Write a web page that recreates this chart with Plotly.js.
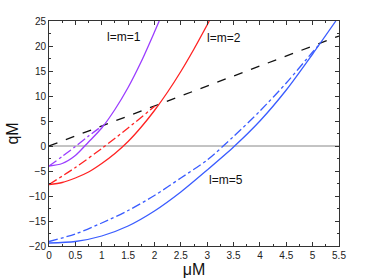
<!DOCTYPE html>
<html>
<head>
<meta charset="utf-8">
<script src="https://cdn.plot.ly/plotly-3.0.1.min.js"></script>
<style>html,body{margin:0;padding:0;background:#fff;}#chart{width:374px;height:279px;}</style>
</head>
<body>
<div id="chart"></div>
<script>
// l=m=1 (purple)
const mu1 = [0, 0.25, 0.5, 0.75, 1.0, 1.25, 1.5, 1.75, 2.0, 2.09];
const q1 = [-4.0, -3.5, -1.9, 0.8, 3.6, 7.3, 11.7, 16.9, 22.8, 25.0];
const mu1a = [0, 0.25, 0.5, 0.75, 1.02];
const q1a = [-4.0, -2.1, -0.1, 2.0, 4.1];
// l=m=2 (red)
const mu2 = [0, 0.25, 0.5, 0.75, 1.0, 1.25, 1.5, 1.75, 2.0, 2.25, 2.5, 2.75, 3.04];
const q2 = [-7.7, -7.3, -6.4, -5.2, -3.5, -1.5, 0.9, 3.8, 7.1, 10.8, 14.9, 19.4, 25.0];
const mu2a = [0, 0.5, 1.0, 1.5, 2.01];
const q2a = [-7.7, -4.3, -0.5, 3.6, 8.0];
// l=m=5 (blue)
const mu5 = [0, 0.5, 1.0, 1.5, 2.0, 2.5, 3.0, 3.5, 4.0, 4.5, 5.0, 5.44];
const q5 = [-19.4, -19.1, -18.0, -16.0, -13.0, -9.2, -4.8, -0.2, 5.0, 11.2, 18.4, 25.0];
const mu5a = [0, 0.5, 1.0, 1.5, 2.0, 2.5, 3.0, 3.5, 4.0, 4.5, 5.0, 5.15];
const q5a = [-19.1, -17.6, -15.4, -12.9, -9.9, -6.4, -2.8, 1.9, 7.0, 12.6, 18.8, 20.6];
// dashed reference line
const muD = [0, 5.5];
const qD = [0, 22];
// zero line
const muZ = [0, 5.5];
const qZ = [0, 0];
// labels
const labelText = ["l=m=1", "l=m=2", "l=m=5"];
const labelX = [1.43, 3.32, 3.35];
const labelY = [21.8, 21.6, -6.7];

const purple = '#9b3dff', red = '#ff2222', blue = '#3a5cff';
const lw = 1.3;
function tr(x, y, color, dash) {
  return {x: x, y: y, type: 'scatter', mode: 'lines', line: {color: color, width: lw, dash: dash, shape: 'spline', smoothing: 0.8}, hoverinfo: 'skip', showlegend: false};
}
const data = [
  {x: muZ, y: qZ, type: 'scatter', mode: 'lines', line: {color: '#888', width: 1}, showlegend: false},
  tr(muD, qD, '#111', 'dash'),
  tr(mu1, q1, purple, 'solid'),
  tr(mu1a, q1a, purple, 'dashdot'),
  tr(mu2, q2, red, 'solid'),
  tr(mu2a, q2a, red, 'dashdot'),
  tr(mu5, q5, blue, 'solid'),
  tr(mu5a, q5a, blue, 'dashdot')
];
const axisCommon = {
  showgrid: false, zeroline: false, showline: true, linecolor: '#333', linewidth: 1,
  mirror: 'ticks', ticks: 'inside', ticklen: 4, tickcolor: '#333',
  tickfont: {family: 'Liberation Sans, Arial, sans-serif', size: 10, color: '#222'}
};
const layout = {
  width: 374, height: 279,
  margin: {l: 49, r: 35, t: 21, b: 33},
  paper_bgcolor: '#fff', plot_bgcolor: '#fff',
  font: {family: 'Liberation Sans, Arial, sans-serif', color: '#111'},
  xaxis: Object.assign({}, axisCommon, {
    range: [0, 5.5], tickmode: 'linear', tick0: 0, dtick: 0.5,
    minor: {ticks: 'inside', dtick: 0.25, ticklen: 2, tickcolor: '#333'},
    title: {text: 'μM', font: {size: 16, color: '#111'}, standoff: 2}
  }),
  yaxis: Object.assign({}, axisCommon, {
    range: [-20, 25], tickmode: 'linear', tick0: -20, dtick: 5,
    minor: {ticks: 'inside', dtick: 2.5, ticklen: 2, tickcolor: '#333'},
    title: {text: 'qM', font: {size: 16, color: '#111'}, standoff: 6}
  }),
  annotations: labelText.map((t, i) => ({
    x: labelX[i], y: labelY[i], text: t, showarrow: false,
    font: {size: 12, color: '#111', family: 'Liberation Sans, Arial, sans-serif'}
  }))
};
Plotly.newPlot('chart', data, layout, {staticPlot: true, displayModeBar: false});
</script>
</body>
</html>
